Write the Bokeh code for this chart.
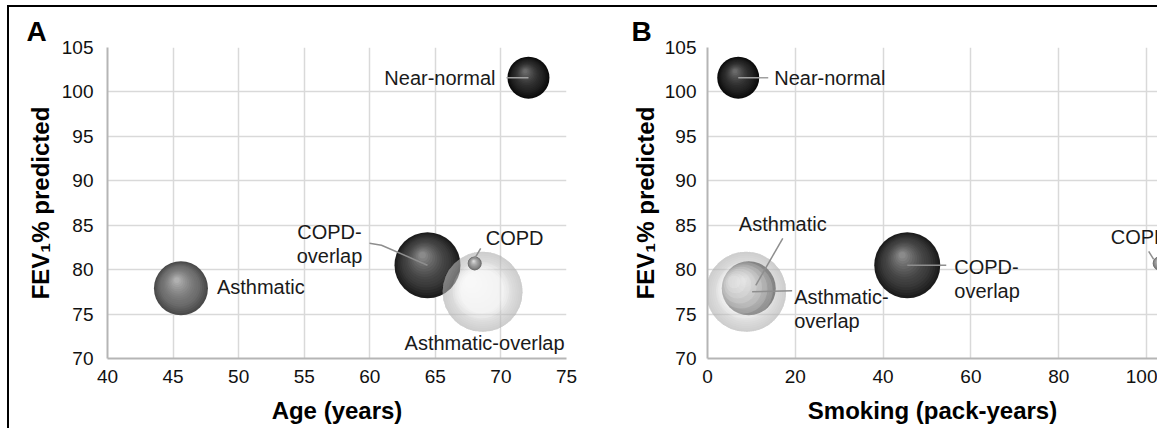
from bokeh.plotting import figure
from bokeh.models import Range1d
from bokeh.layouts import row
from bokeh.core.properties import value
from bokeh.embed import file_html
from bokeh.resources import INLINE

# ---------------- data ----------------
groups = ["Near-normal", "COPD-overlap", "Asthmatic", "Asthmatic-overlap", "COPD"]
age_years = [72.1, 64.4, 45.6, 68.6, 68.0]
pack_years = [7.0, 45.5, 9.4, 8.8, 103.0]
fev1_pct_pred = [101.6, 80.5, 77.9, 77.5, 80.7]
bubble_size = [21, 33, 27, 40, 7]   # relative cluster size

age_ticks = [40, 45, 50, 55, 60, 65, 70, 75]
pack_ticks = [0, 20, 40, 60, 80, 100]
fev1_ticks = [70, 75, 80, 85, 90, 95, 100, 105]

# ---------------- styles ----------------
FONT = "Liberation Sans"
SPHERE = {
    "Near-normal": ("#0b0b0b", "#242424", "#6a6a6a"),
    "COPD-overlap": ("#1c1c1c", "#3c3c3c", "#8a8a8a"),
    "Asthmatic": ("#4a4a4a", "#6e6e6e", "#b0b0b0"),
    "COPD": ("#6c6c6c", "#909090", "#dadada"),
}
LEAD = "#8e8e8e"

# annotation layout (pixel offsets from bubble centre, y down)
ANN_A = {
    "Near-normal": dict(lines=["Near-normal"], align="right", dx=-33, dy=[0], lead=[(-22, 0), (0, 0)], lc="#a0a0a0"),
    "COPD-overlap": dict(lines=["COPD-", "overlap"], align="center", dx=-98, dy=[-33, -9],
                         lead=[(-58, -22), (-46, -20), (0, 0)], lc=LEAD),
    "COPD": dict(lines=["COPD"], align="left", dx=11, dy=[-25], lead=[(6, -15), (0, -5)], lc=LEAD),
    "Asthmatic-overlap": dict(lines=["Asthmatic-overlap"], align="center", dx=2, dy=[51], lead=None),
    "Asthmatic": dict(lines=["Asthmatic"], align="left", dx=36, dy=[-1], lead=None),
}
ANN_B = {
    "Near-normal": dict(lines=["Near-normal"], align="left", dx=36, dy=[0], lead=[(0, 0), (30, 0)], lc="#a0a0a0"),
    "Asthmatic": dict(lines=["Asthmatic"], align="center", dx=34, dy=[-64], lead=[(34, -50), (7, -3)], lc=LEAD),
    "Asthmatic-overlap": dict(lines=["Asthmatic-", "overlap"], align="left", dx=48, dy=[5, 29],
                              lead=[(6, 0), (46, -1)], lc=LEAD),
    "COPD-overlap": dict(lines=["COPD-", "overlap"], align="left", dx=47, dy=[2, 26], lead=[(0, 0), (39, 0)], lc=LEAD),
    "COPD": dict(lines=["COPD"], align="left", dx=-49, dy=[-26], lead=[(-11, -12), (-6, -4)], lc=LEAD),
}

H = 421
MB_TOP, MB_BOT = 40, 70


def hexrgb(h):
    return tuple(int(h[i:i + 2], 16) for i in (1, 3, 5))


def mix(a, b, t):
    return "#%02x%02x%02x" % tuple(int(round(a[i] + (b[i] - a[i]) * t)) for i in range(3))


def make_fig(xr, xticks, title, title_off, width, mbl, mbr, xlabel, ylabel, ystand, ylab_stand):
    p = figure(width=width, height=H, output_backend="svg", toolbar_location=None,
               x_range=Range1d(*xr), y_range=Range1d(70, 105),
               min_border_left=mbl, min_border_right=mbr, min_border_top=MB_TOP, min_border_bottom=MB_BOT,
               title=title, title_location="above")
    p.title.align = "left"
    p.title.offset = title_off
    p.title.text_font = FONT
    p.title.text_font_size = "28px"
    p.title.text_font_style = "bold"
    p.title.text_color = "#000000"
    p.title.standoff = 2
    p.background_fill_color = "white"
    p.border_fill_color = "white"
    p.outline_line_color = None
    p.xaxis.ticker = xticks
    p.yaxis.ticker = fev1_ticks
    p.grid.grid_line_color = "#d9d9d9"
    p.grid.grid_line_width = 1.5
    for ax in (p.xaxis[0], p.yaxis[0]):
        ax.axis_line_color = "#b5b5b5"
        ax.axis_line_width = 2
        ax.major_tick_line_color = None
        ax.minor_tick_line_color = None
        ax.major_label_text_font = FONT
        ax.major_label_text_font_size = "19px"
        ax.major_label_text_color = "#111111"
        ax.axis_label_text_font = FONT
        ax.axis_label_text_font_style = "bold"
        ax.axis_label_text_color = "#000000"
    p.xaxis.axis_label = xlabel
    p.yaxis.axis_label = ylabel
    p.xaxis.axis_label_text_font_size = "24px"
    p.yaxis.axis_label_text_font_size = "24px"
    p.xaxis.major_label_standoff = 5
    p.yaxis.major_label_standoff = ystand
    p.xaxis.axis_label_standoff = 11
    p.yaxis.axis_label_standoff = ylab_stand
    return p


def glass_sphere(p, x, y, r, sx, sy):
    # translucent "glass" bubble: faint body, rim opacity rising smoothly, white highlight
    p.scatter([x], [y], size=2 * r, fill_color="#d4d4d4", fill_alpha=0.36, line_color=None)
    for k in range(1, 10):
        w = 2.0 * k
        p.scatter([x], [y], size=2 * r - w, fill_color=None, line_color="#a9a9a9",
                  line_alpha=0.06, line_width=w)
    n = 7
    for k in range(1, n + 1):
        t = k / n
        rr = r * 0.8 * (1 - 0.8 * t)
        ox, oy = -0.3 * r * t, -0.25 * r * t
        p.scatter([x + ox / sx], [y - oy / sy], size=2 * rr, fill_color="white",
                  fill_alpha=0.15, line_color=None)


def solid_sphere(p, x, y, r, cols, sx, sy):
    edge, body, hi = map(hexrgb, cols)
    n = 16
    for k in range(n):
        t = k / (n - 1)
        rr = r * (1 - 0.9 * t)
        ox, oy = -0.15 * r * t, -0.3 * r * t
        if t < 0.3:
            c = mix(edge, body, t / 0.3)
        else:
            c = mix(body, hi, ((t - 0.3) / 0.7) ** 1.4)
        p.scatter([x + ox / sx], [y - oy / sy], size=2 * rr, fill_color=c, line_color=None)


def draw_panel(p, xs, sx, sy, ann):
    for g, x, y, r in zip(groups, xs, fev1_pct_pred, bubble_size):
        if g == "Asthmatic-overlap":
            glass_sphere(p, x, y, r, sx, sy)
        else:
            solid_sphere(p, x, y, r, SPHERE[g], sx, sy)
    for g, x, y in zip(groups, xs, fev1_pct_pred):
        a = ann[g]
        if a["lead"]:
            p.line([x + px / sx for px, py in a["lead"]], [y - py / sy for px, py in a["lead"]],
                   line_color=a["lc"], line_width=1.5)
    for g, x, y in zip(groups, xs, fev1_pct_pred):
        a = ann[g]
        for line, dy in zip(a["lines"], a["dy"]):
            p.text([x], [y], text=[line], x_offset=a["dx"], y_offset=dy, text_align=a["align"],
                   text_baseline="middle", text_font=value(FONT), text_font_size="20px",
                   text_color="#1a1a1a")


syF = (H - MB_TOP - MB_BOT) / 35.0

# Panel A
WA, MLA, MRA = 591, 98, 34
pA = make_fig((40, 75), age_ticks, "A", -81, WA, MLA, MRA, "Age (years)", "FEV\u2081% predicted", 8, 5)
sxA = (WA - MLA - MRA) / 35.0
draw_panel(pA, age_years, sxA, syF, ANN_A)

# Panel B (cropped at the right edge, as in the source figure)
WB, MLB, MRB = 557, 107, 0
B_END = 102.5
pB = make_fig((0, B_END), pack_ticks, "B", -76, WB, MLB, MRB, "Smoking (pack-years)", "FEV\u2081% predicted", 5, 3)
sxB = (WB - MLB - MRB) / B_END
draw_panel(pB, pack_years, sxB, syF, ANN_B)

layout = row(pA, pB, styles={"border-top": "2px solid #000", "border-left": "2px solid #000",
                              "margin-top": "5px", "margin-left": "7px"})

open("out.html", "w").write(file_html(layout, INLINE))
